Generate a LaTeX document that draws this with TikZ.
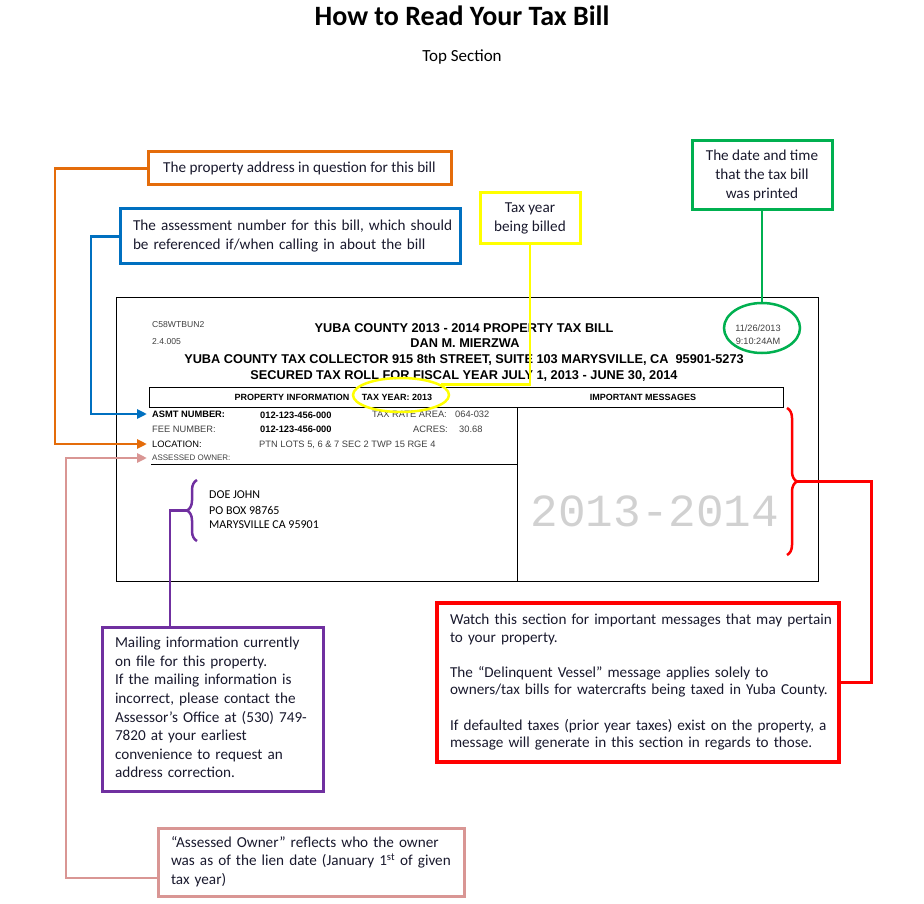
\documentclass[tikz,border=0pt]{standalone}
\usepackage{fontspec}
\setmainfont{Carlito}
\newfontfamily\billfont{Liberation Sans}
\newfontfamily\stampfont{Liberation Mono}
\usetikzlibrary{arrows.meta,shapes.geometric,decorations.pathreplacing}

\definecolor{noteorange}{RGB}{228,108,10}
\definecolor{noteblue}{RGB}{0,112,192}
\definecolor{noteyellow}{RGB}{255,255,0}
\definecolor{notegreen}{RGB}{0,176,80}
\definecolor{notepurple}{RGB}{112,48,160}
\definecolor{notered}{RGB}{255,0,0}
\definecolor{notepink}{RGB}{217,150,148}
\definecolor{notetext}{RGB}{25,25,45}

% Zeilen einer Erklaerung (ohne Umbruch)
\newcommand{\notelines}[1]{\begin{tabular}{@{}l@{}}#1\end{tabular}}

\begin{document}
\begin{tikzpicture}[
    x=1pt, y=-1pt,
    >={Triangle[length=10pt,width=9pt]},
    note/.style={
        draw, line width=3pt, inner sep=0pt, align=left,
        text=notetext, font=\fontsize{15.2}{18.6}\selectfont
    },
    link/.style={line width=2.5pt},
    billline/.style={line width=0.9pt},
    billhead/.style={
        inner sep=0pt, text=black,
        font=\billfont\bfseries\fontsize{12.75}{14}\selectfont
    },
    billbar/.style={
        inner sep=0pt, text=black,
        font=\billfont\bfseries\fontsize{9}{10}\selectfont
    },
    billkey/.style={
        anchor=west, inner sep=0pt, text=black!75,
        font=\billfont\fontsize{9.3}{11}\selectfont
    },
    billval/.style={
        anchor=west, inner sep=0pt, text=black,
        font=\billfont\bfseries\fontsize{9.3}{11}\selectfont
    },
    billtiny/.style={
        anchor=west, inner sep=0pt, text=black!75,
        font=\billfont\fontsize{8.6}{9}\selectfont
    },
    mail/.style={
        anchor=west, inner sep=0pt, text=black,
        font=\fontsize{12}{15}\selectfont
    },
    bracemark/.style={line width=2.5pt, decorate, decoration={brace, amplitude=10pt}}
]
\useasboundingbox (0,0) rectangle (924,904);

% Titel
\node[font=\bfseries\fontsize{28}{32}\selectfont] (title) at (462,16) {How to Read Your Tax Bill};
\node[font=\fontsize{17}{20}\selectfont] (subtitle) at (462,57) {Top Section};

% Rechnung (Rahmen)
\draw[billline] (116,297) rectangle (818,581);
\draw[billline] (149,387) rectangle (783,407);
\draw[billline] (517,407) -- (517,581);
\draw[billline] (151,464) -- (517,464);

% Kopfzeilen
\node[billtiny] (code) at (152,325) {C58WTBUN2};
\node[billtiny] (version) at (152,342) {2.4.005};
\node[billhead] (head1) at (464,328) {YUBA COUNTY 2013 - 2014 PROPERTY TAX BILL};
\node[billhead] (head2) at (465,343) {DAN M. MIERZWA};
\node[billhead] (head3) at (464,360) {YUBA COUNTY TAX COLLECTOR 915 8th STREET, SUITE 103 MARYSVILLE, CA\ \ 95901-5273};
\node[billhead] (head4) at (464,376) {SECURED TAX ROLL FOR FISCAL YEAR JULY 1, 2013 - JUNE 30, 2014};
\node[billtiny, anchor=center, align=center, font=\billfont\fontsize{9.2}{12.8}\selectfont]
    (printdate) at (758,335) {11/26/2013\\9:10:24AM};

\node[billbar] (propinfo) at (292,397) {PROPERTY INFORMATION};
\node[billbar] (taxyear) at (397,397) {TAX YEAR: 2013};
\node[billbar] (msghead) at (643,397) {IMPORTANT MESSAGES};

% Felder
\node[billval] (asmt) at (152,414) {ASMT NUMBER:};
\node[billval] (asmtno) at (260,415) {012-123-456-000};
\node[billkey] (tra) at (372,414) {TAX RATE AREA:};
\node[billkey] (trano) at (455,414) {064-032};
\node[billkey] (fee) at (152,429) {FEE NUMBER:};
\node[billval] (feeno) at (260,429) {012-123-456-000};
\node[billkey] (acres) at (413,429) {ACRES:};
\node[billkey] (acresno) at (459,429) {30.68};
\node[billkey, text=black] (loc) at (152,444) {LOCATION:};
\node[billkey] (locdesc) at (259,445) {PTN LOTS 5, 6 \& 7 SEC 2 TWP 15 RGE 4};
\node[billkey, font=\billfont\fontsize{8}{9}\selectfont] (owner) at (152,458) {ASSESSED OWNER:};

% Postanschrift
\node[mail] (mail1) at (209,495) {DOE JOHN};
\node[mail] (mail2) at (209,510) {PO BOX 98765};
\node[mail] (mail3) at (209,525) {MARYSVILLE CA 95901};

% Wasserzeichen
\node[inner sep=0pt, text=black!18, font=\stampfont\fontsize{46}{46}\selectfont] (stamp) at (655,511) {2013-2014};

% Markierungen
\node[ellipse, draw=noteyellow, line width=2.5pt, minimum width=96pt, minimum height=34pt] (yearell) at (401,395) {};
\node[ellipse, draw=notegreen, line width=2.5pt, minimum width=76pt, minimum height=50pt] (dateell) at (762,328) {};

\coordinate (mailTip) at (187,510.5);
\coordinate (msgTip) at (797,481.5);
\draw[bracemark, notepurple] (197,541) -- (197,480);
\draw[bracemark, notered] (787,408) -- (787,555);

% Erklaerungen
\node[note, draw=noteorange, align=center, minimum width=303pt, minimum height=33pt] (addrnote) at (299.5,168.5)
    {The property address in question for this bill};
\node[note, draw=noteblue, minimum width=340pt, minimum height=55pt, text width=314pt] (asmtnote) at (290,236.5)
    {\notelines{The assessment number for this bill, which should\\be referenced if/when calling in about the bill}};
\node[note, draw=noteyellow, align=center, minimum width=100pt, minimum height=51pt] (yearnote) at (530,218.5)
    {Tax year\\being billed};
\node[note, draw=notegreen, align=center, minimum width=140pt, minimum height=69pt] (datenote) at (762,175.5)
    {The date and time\\that the tax bill\\was printed};
\node[note, draw=notepurple, minimum width=221pt, minimum height=164pt, text width=195pt] (mailnote) at (212.5,709)
    {\notelines{Mailing information currently\\on file for this property.\\If the mailing information is\\incorrect, please contact the\\Assessor’s Office at (530) 749-\\7820 at your earliest\\convenience to request an\\address correction.}};
\node[note, draw=notered, line width=3.5pt, minimum width=402pt, minimum height=159pt, text width=376pt,
      font=\fontsize{15.2}{17.6}\selectfont] (msgnote) at (638,682.5)
    {\notelines{Watch this section for important messages that may pertain\\to your property.\\[17.6pt]The “Delinquent Vessel” message applies solely to\\owners/tax bills for watercrafts being taxed in Yuba County.\\[17.6pt]If defaulted taxes (prior year taxes) exist on the property, a\\message will generate in this section in regards to those.}};
\node[note, draw=notepink, minimum width=306pt, minimum height=68pt, text width=280pt] (ownnote) at (311,862)
    {\notelines{“Assessed Owner” reflects who the owner\\was as of the lien date (January 1\textsuperscript{st} of given\\tax year)}};

% Verbindungen
\draw[link, noteorange, ->, shorten >=5pt] (addrnote.west) -| ([xshift=-97pt]loc.west) -- (loc.west);
\draw[link, noteblue, ->, shorten >=5pt] (asmtnote.west) -| ([xshift=-61pt]asmt.west) -- (asmt.west);
\draw[link, notepink, ->, shorten >=5pt] ([yshift=-16pt]ownnote.west) -| ([xshift=-86pt]owner.west) -- (owner.west);
\draw[link, noteyellow] (yearnote.south) |- (yearell.15);
\draw[link, notegreen] (datenote.south) -- (dateell.north);
\draw[link, notepurple] (mailTip) -| ([xshift=-42.5pt]mailnote.north);
\draw[link, notered, line width=3pt] (msgnote.east) -| ([xshift=74pt]msgTip) -- (msgTip);

\end{tikzpicture}
\end{document}
